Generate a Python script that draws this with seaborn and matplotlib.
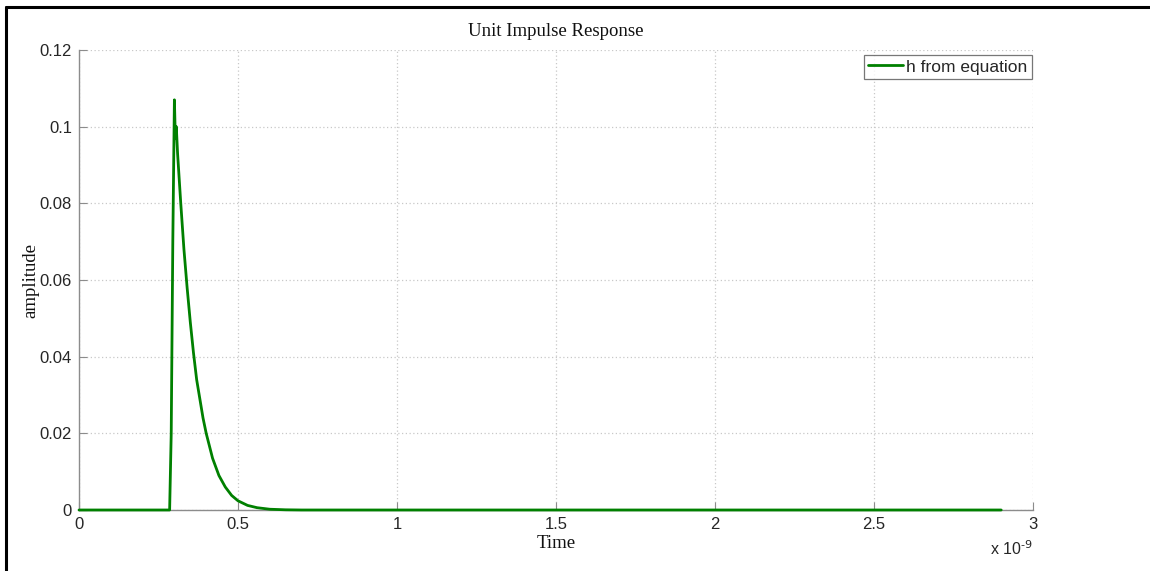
import matplotlib
matplotlib.use("Agg")
import matplotlib.pyplot as plt
from matplotlib.lines import Line2D
import seaborn as sns
import pandas as pd

# Time in units of 1e-9 s, amplitude of impulse response
time_ns = [0.0, 0.285, 0.29, 0.295, 0.300, 0.303, 0.306, 0.31, 0.32, 0.33, 0.34,
           0.35, 0.36, 0.37, 0.38, 0.39, 0.40, 0.42, 0.44, 0.46, 0.48, 0.50,
           0.53, 0.56, 0.60, 0.65, 0.70, 2.9]
h_values = [0.0, 0.0, 0.02, 0.07, 0.107, 0.097, 0.100, 0.093, 0.080, 0.068, 0.058,
            0.049, 0.041, 0.034, 0.029, 0.024, 0.020, 0.0135, 0.009, 0.006, 0.0038, 0.0024,
            0.0012, 0.0006, 0.0002, 0.00005, 0.0, 0.0]
x_ticks = [0, 0.5, 1, 1.5, 2, 2.5, 3]
x_tick_labels = ["0", "0.5", "1", "1.5", "2", "2.5", "3"]
y_ticks = [0, 0.02, 0.04, 0.06, 0.08, 0.1, 0.12]
y_tick_labels = ["0", "0.02", "0.04", "0.06", "0.08", "0.1", "0.12"]

df = pd.DataFrame({"Time": time_ns, "amplitude": h_values})

sns.set_style("white")
plt.rcParams["font.family"] = ["Liberation Sans", "DejaVu Sans"]

fig = plt.figure(figsize=(11.5, 5.71), dpi=100)
ax = fig.add_axes([79 / 1150, 1 - 510 / 571, (1033 - 79) / 1150, (510 - 50) / 571])

sns.lineplot(data=df, x="Time", y="amplitude", ax=ax, color="#008000",
             linewidth=2, label="h from equation", sort=False, estimator=None)
for ln in ax.lines:
    ln.set_clip_on(False)
    ln.set_zorder(5)

ax.set_xlim(0, 3)
ax.set_ylim(0, 0.12)
ax.set_xticks(x_ticks)
ax.set_xticklabels(x_tick_labels)
ax.set_yticks(y_ticks)
ax.set_yticklabels(y_tick_labels)

ax.grid(True, linestyle=(0, (1, 2)), color="#c8c8c8", linewidth=0.9)
for s in ["top", "right"]:
    ax.spines[s].set_visible(False)
for s in ["left", "bottom"]:
    ax.spines[s].set_color("#8c8c8c")
    ax.spines[s].set_linewidth(1.0)
ax.tick_params(direction="in", length=6, color="#8c8c8c", labelsize=12,
               labelcolor="#262626", bottom=True, left=True, pad=5)

serif = ["Liberation Serif", "DejaVu Serif"]
ax.set_title("Unit Impulse Response", family=serif, fontsize=13.5, pad=10, color="#111111")
ax.set_xlabel("Time", family=serif, fontsize=13.5, labelpad=2, color="#111111")
ax.set_ylabel("amplitude", family=serif, fontsize=13.5, labelpad=0, color="#111111")

ax.text(1.0, -0.083, "x 10$^{\u2010" + "9}$", transform=ax.transAxes, ha="right", va="center",
        fontsize=11.5, color="#262626")

leg = ax.legend(loc="upper right", bbox_to_anchor=(0.999, 0.989), fontsize=12.5,
                frameon=True, fancybox=False, borderaxespad=0.0, handlelength=2.0,
                handletextpad=0.2, borderpad=0.25)
leg.get_frame().set_edgecolor("#555555")
leg.get_frame().set_linewidth(0.9)

# outer screenshot frame (top and left)
fig.add_artist(Line2D([6 / 1150, 1], [1 - 7 / 571, 1 - 7 / 571], color="black", linewidth=2.2,
                      transform=fig.transFigure))
fig.add_artist(Line2D([6 / 1150, 6 / 1150], [0, 1 - 7 / 571], color="black", linewidth=2.2,
                      transform=fig.transFigure))

fig.savefig("out.png", dpi=100)
